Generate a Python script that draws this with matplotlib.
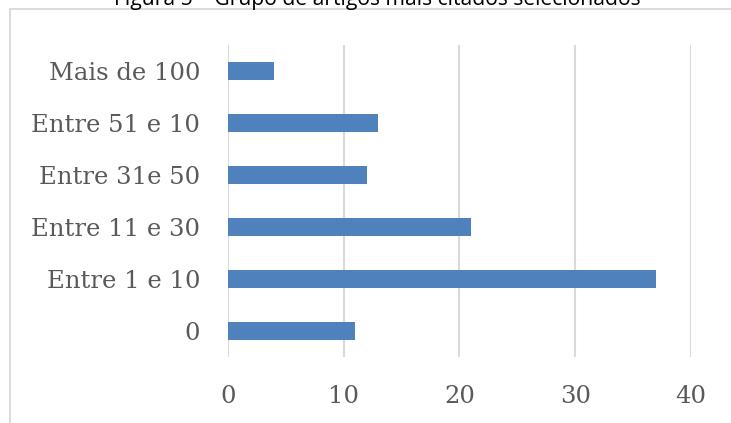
import matplotlib
matplotlib.use("Agg")
import matplotlib.pyplot as plt
from matplotlib.patches import Rectangle

# Dados
categorias = ['0', 'Entre 1 e 10', 'Entre 11 e 30', 'Entre 31e 50', 'Entre 51 e 10', 'Mais de 100']
valores = [11, 37, 21, 12, 13, 4]
ticks_x = [0, 10, 20, 30, 40]
titulo = 'Figura 5 – Grupo de artigos mais citados selecionados'

W, H = 731, 423
fig = plt.figure(figsize=(W / 100, H / 100), dpi=100)

# Moldura da área do gráfico (cortada à direita e embaixo)
fig.patches.append(Rectangle((10 / W, -0.1), 1.2, (1 - 9 / H) + 0.1,
                             transform=fig.transFigure, fill=False,
                             edgecolor='#D9D9D9', linewidth=1.3))

# Título cortado no topo da imagem
fig.text(377 / W, 1 - 4.5 / H, titulo, ha='center', va='baseline',
         fontsize=15.2, family='Open Sans', color='black')

ax = fig.add_axes([228 / W, 1 - 357 / H, (691 - 228) / W, (357 - 45) / H])
ax.barh(range(len(categorias)), valores, height=0.35, color='#4F81BD', zorder=3)

ax.set_xlim(0, 40)
ax.set_ylim(-0.5, len(categorias) - 0.5)
ax.set_xticks(ticks_x)
ax.set_yticks(range(len(categorias)))
ax.set_yticklabels(categorias)
ax.grid(axis='x', color='#D9D9D9', linewidth=1.5, zorder=0)
for s in ax.spines.values():
    s.set_visible(False)
ax.tick_params(length=0, labelcolor='#595959', labelsize=17.5)
ax.tick_params(axis='x', pad=20)
ax.tick_params(axis='y', pad=20)
for lbl in ax.get_xticklabels() + ax.get_yticklabels():
    lbl.set_family('DejaVu Serif')

fig.savefig('out.png', dpi=100)
